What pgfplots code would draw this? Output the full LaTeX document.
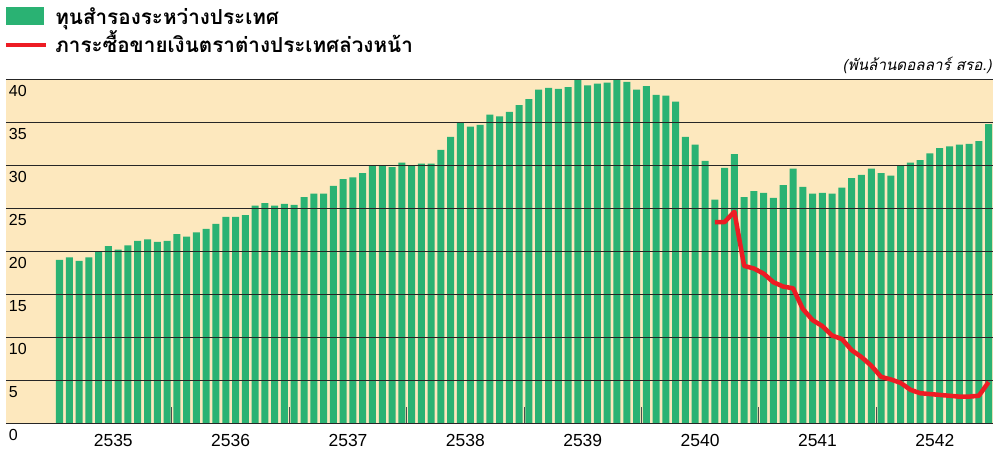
\documentclass[border=0pt]{standalone}
\usepackage{fontspec}
\setmainfont{Liberation Sans}
\newfontfamily\thaifont[Script=Thai]{Loma}
\usepackage{pgfplots}
\pgfplotsset{compat=1.18}
\definecolor{barg}{RGB}{42,178,115}
\definecolor{beige}{RGB}{253,232,190}
\definecolor{redline}{RGB}{237,28,36}

\begin{document}
\begin{tikzpicture}
% page = 1002 x 452 px, 1px = 0.75pt, axis box lower left at px (6,423.3)
\begin{scope}[x=0.75pt, y=-0.75pt, shift={(-4.5pt,317.475pt)}]
  \path[use as bounding box] (0,0) rectangle (1002,452);
\end{scope}

\begin{axis}[
    at={(0pt,0pt)}, anchor=south west,
    scale only axis,
    width=739.9pt, height=258pt,
    xmin=-5.47, xmax=95.4,
    ymin=0, ymax=40,
    set layers=axis on top,
    axis background/.style={fill=beige},
    axis line style={draw=none},
    /pgf/number format/assume math mode=true,
    ytick={0,5,...,40},
    ymajorgrids,
    major grid style={black!85, line width=0.85pt},
    ytick style={draw=none},
    yticklabel style={anchor=north west, inner sep=0pt, xshift=2pt, yshift=-4.2pt,
        font=\fontsize{12pt}{14pt}\selectfont},
    xtick={5.5,17.5,...,89.5},
    xticklabels={2535,2536,2537,2538,2539,2540,2541,2542},
    major tick length=0pt,
    minor xtick={11.5,23.5,...,83.5},
    minor tick length=12pt,
    xtick align=inside,
    xtick pos=bottom,
    xtick style={draw=black!70, line width=0.75pt},
    xticklabel style={anchor=north, inner sep=0pt, yshift=-8.2pt,
        font=\fontsize{13.1pt}{15pt}\selectfont},
]
% international reserves, billion USD, monthly 2535-2542
\addplot[ybar, bar width=0.716, bar shift=0pt, fill=barg, draw=none] coordinates {
(0,19.0) (1,19.3) (2,18.9) (3,19.3) (4,19.9) (5,20.6) (6,20.2) (7,20.7)
(8,21.2) (9,21.4) (10,21.1) (11,21.2) (12,22.0) (13,21.7) (14,22.2) (15,22.6)
(16,23.2) (17,24.0) (18,24.0) (19,24.2) (20,25.3) (21,25.6) (22,25.3) (23,25.5)
(24,25.4) (25,26.3) (26,26.7) (27,26.7) (28,27.6) (29,28.4) (30,28.6) (31,29.1)
(32,30.0) (33,30.0) (34,29.8) (35,30.3) (36,30.0) (37,30.2) (38,30.2) (39,31.8)
(40,33.3) (41,35.0) (42,34.5) (43,34.7) (44,35.9) (45,35.7) (46,36.2) (47,37.0)
(48,37.7) (49,38.8) (50,39.0) (51,38.9) (52,39.1) (53,40.0) (54,39.3) (55,39.5)
(56,39.6) (57,40.0) (58,39.7) (59,38.8) (60,39.2) (61,38.2) (62,38.1) (63,37.4)
(64,33.3) (65,32.4) (66,30.5) (67,26.0) (68,29.7) (69,31.3) (70,26.3) (71,27.0)
(72,26.8) (73,26.2) (74,27.7) (75,29.6) (76,27.5) (77,26.7) (78,26.8) (79,26.7)
(80,27.4) (81,28.5) (82,28.9) (83,29.6) (84,29.1) (85,28.8) (86,29.9) (87,30.3)
(88,30.6) (89,31.4) (90,32.0) (91,32.2) (92,32.4) (93,32.5) (94,32.8) (95,34.8)
};
% forward foreign exchange obligations
\addplot[draw=redline, line width=3.4pt, line join=round, on layer=axis foreground] coordinates {
(67,23.4) (68,23.4) (69,24.6) (70,18.3) (71,18.0) (72,17.4) (73,16.4) (74,15.9)
(75,15.7) (76,13.3) (77,12.0) (78,11.3) (79,10.2) (80,9.8) (81,8.5) (82,7.7)
(83,6.7) (84,5.4) (85,5.1) (86,4.7) (87,3.9) (88,3.5) (89,3.4) (90,3.3)
(91,3.2) (92,3.1) (93,3.1) (94,3.2) (95,4.8)
};
\end{axis}

\begin{scope}[x=0.75pt, y=-0.75pt, shift={(-4.5pt,317.475pt)}]
  \fill[barg] (6,7) rectangle (44,25);
  \draw[redline, line width=3.4pt] (6,45) -- (46,45);
  \node[anchor=base west, inner sep=0pt, font=\thaifont\bfseries\fontsize{15.5pt}{18pt}\selectfont]
    at (55,25) {ทุนสำรองระหว่างประเทศ};
  \node[anchor=base west, inner sep=0pt, font=\thaifont\bfseries\fontsize{15.5pt}{18pt}\selectfont]
    at (55,53) {ภาระซื้อขายเงินตราต่างประเทศล่วงหน้า};
  \node[anchor=base east, inner sep=0pt, font=\thaifont\itshape\fontsize{11.4pt}{13pt}\selectfont]
    at (992,71) {(พันล้านดอลลาร์ สรอ.)};
\end{scope}
\end{tikzpicture}
\end{document}
